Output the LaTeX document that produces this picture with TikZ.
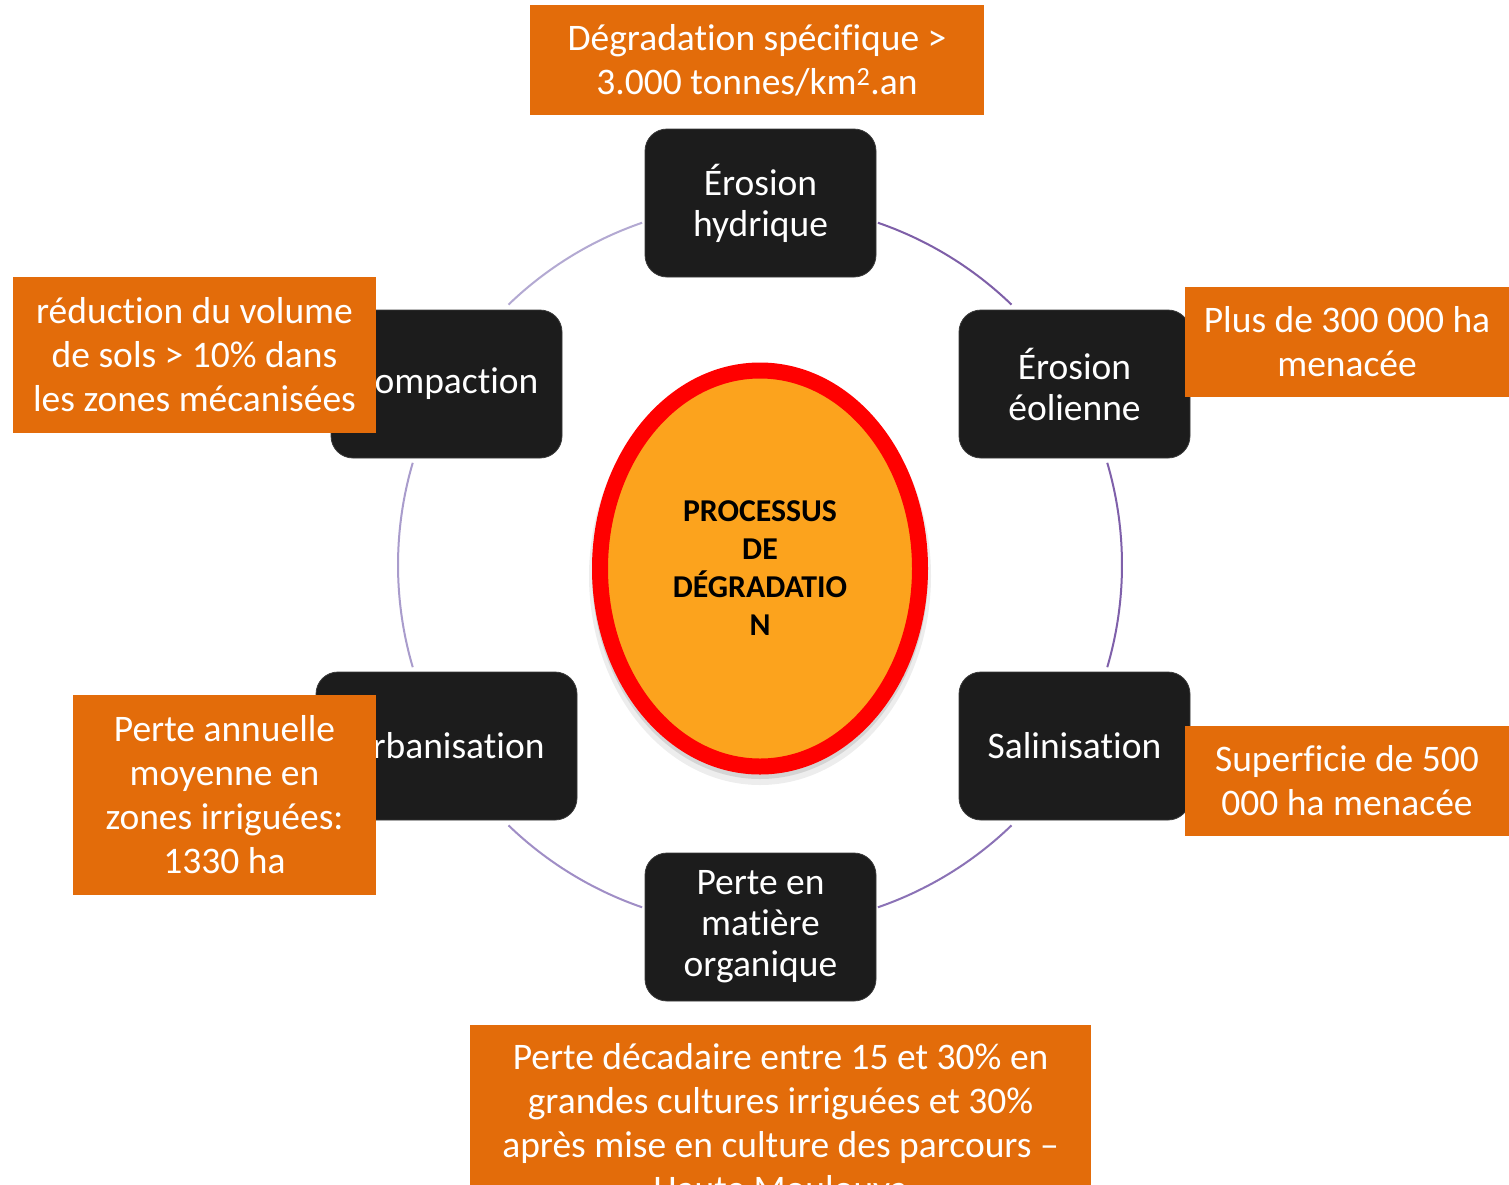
\documentclass[tikz,border=0pt]{standalone}
\usepackage{fontspec}
\setmainfont[Ligatures=NoCommon]{Carlito}
\usetikzlibrary{shapes.geometric}
\definecolor{boxblack}{HTML}{1C1C1C}
\definecolor{boxedge}{HTML}{3A3A3A}
\definecolor{orangebg}{HTML}{E36C0A}
\definecolor{centerfill}{HTML}{FCA31D}
\definecolor{arcA}{HTML}{7E5FA8}
\definecolor{arcB}{HTML}{7F60AA}
\definecolor{arcC}{HTML}{8B72B6}
\definecolor{arcD}{HTML}{A08EC6}
\definecolor{arcE}{HTML}{A99CCC}
\definecolor{arcF}{HTML}{B3A9D2}
\tikzset{
  blackbox/.style={rectangle, rounded corners=22pt, fill=boxblack, draw=boxedge,
    line width=0.8pt, text=white, minimum width=231pt, minimum height=148pt,
    align=center, font=\fontsize{37.5}{41}\selectfont, inner sep=0pt},
  orangebox/.style={rectangle, fill=orangebg, text=white, align=center,
    font=\fontsize{37.5}{44}\selectfont, inner sep=0pt},
  arcline/.style={line width=2pt},
  centerell/.style={ellipse, draw=red, line width=16pt, fill=centerfill,
    minimum width=320pt, minimum height=396pt, align=center, inner sep=0pt,
    font=\fontsize{31.8}{38}\selectfont\bfseries, text=black}
}
\begin{document}
\begin{tikzpicture}[x=1pt,y=-1pt]
\useasboundingbox (0,0) rectangle (1509,1184);
\clip (0,0) rectangle (1509,1184);
\fill[white] (0,0) rectangle (1509,1184);

\coordinate (c) at (760,565);

% circle arcs
\draw[arcline, arcA] (c) ++(71:362pt) arc[start angle=71, end angle=46, radius=362pt];
\draw[arcline, arcB] (c) ++(16.4:362pt) arc[start angle=16.4, end angle=-16.4, radius=362pt];
\draw[arcline, arcC] (c) ++(-46:362pt) arc[start angle=-46, end angle=-71, radius=362pt];
\draw[arcline, arcD] (c) ++(-109:362pt) arc[start angle=-109, end angle=-134, radius=362pt];
\draw[arcline, arcE] (c) ++(196.4:362pt) arc[start angle=196.4, end angle=163.6, radius=362pt];
\draw[arcline, arcF] (c) ++(134:362pt) arc[start angle=134, end angle=109, radius=362pt];

% shadow of centre
\fill[black, opacity=0.07] (760,576) ellipse [x radius=171pt, y radius=209pt];
\fill[black, opacity=0.10] (760,573) ellipse [x radius=168pt, y radius=206pt];

% centre
\node[centerell] (proc) at (760,568.5) {PROCESSUS\\DE\\DÉGRADATIO\\N};

% black boxes
\node[blackbox] (hyd) at (760.5,203) {Érosion\\hydrique};
\node[blackbox] (eol) at (1074.5,384) {Érosion\\éolienne};
\node[blackbox] (sal) at (1074.5,746) {Salinisation};
\node[blackbox] (mat) at (760.5,927) {Perte en\\matière\\organique};
\node[blackbox, minimum width=261pt] (urb) at (446.5,746) {Urbanisation};
\node[blackbox] (comp) at (446.5,384) {Compaction};

% orange boxes
\node[orangebox, minimum width=454pt, minimum height=110pt] (o1) at (757,60)
  {Dégradation spécifique >\\3.000 tonnes/km\textsuperscript{2}.an};
\node[orangebox, minimum width=324pt, minimum height=110pt] (o2) at (1347,342)
  {Plus de 300 000 ha\\menacée};
\node[orangebox, minimum width=324pt, minimum height=110pt] (o3) at (1347,781)
  {Superficie de 500\\000 ha menacée};
\node[orangebox, minimum width=363pt, minimum height=156pt] (o4) at (194.5,355)
  {réduction du volume\\de sols > 10\% dans\\les zones mécanisées};
\node[orangebox, minimum width=303pt, minimum height=200pt] (o5) at (224.5,795)
  {Perte annuelle\\moyenne en\\zones irriguées:\\1330 ha};
\node[orangebox, minimum width=621pt, minimum height=200pt] (o6) at (780.5,1125)
  {Perte décadaire entre 15 et 30\% en\\grandes cultures irriguées et 30\%\\après mise en culture des parcours –\\Haute Moulouya};
\end{tikzpicture}
\end{document}
